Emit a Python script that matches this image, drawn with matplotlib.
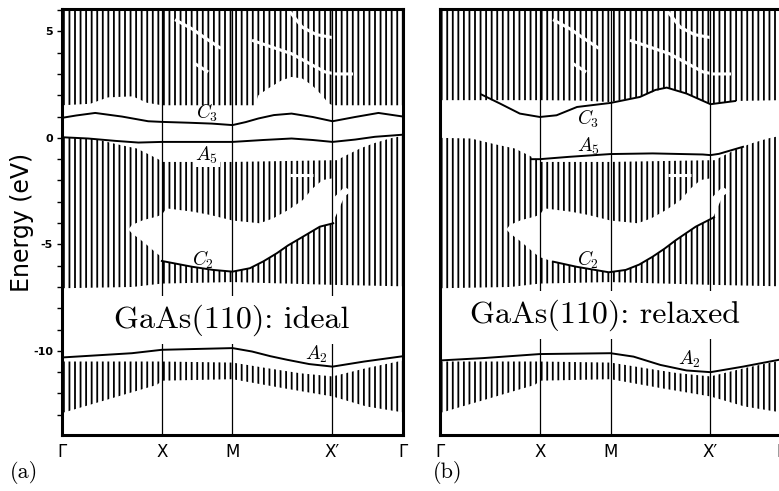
"""
Projected bulk bands and surface states of GaAs(110), ideal vs relaxed
"""

import numpy as np
import matplotlib
matplotlib.use("Agg")
import matplotlib.pyplot as plt

# k-path: Gamma - X - M - X' - Gamma (lengths sqrt2, 1, sqrt2, 1)
K_X, K_M, K_XP, K_END = 1.414, 2.414, 3.828, 4.828
k_ticks = [0, K_X, K_M, K_XP, K_END]
k_labels = ["Γ", "X", "M", "X′", "Γ"]

# ---- bulk continuum (hatched), eV ----
# lower edge of the upper (conduction) continuum
cb_k_a = [0, 0.4, 0.65, 1.0, 1.2, 1.414, 2.73, 2.78, 2.92, 3.11, 3.25, 3.4, 3.54, 3.68, 3.77, 3.83, 4.83]
cb_bot_a = [1.53, 1.6, 1.9, 1.95, 1.65, 1.53, 1.53, 2.0, 2.32, 2.7, 2.86, 2.79, 2.47, 2.0, 1.63, 1.53, 1.53]
cb_k_b = [0, 1.414, 2.0, 2.41, 2.83, 3.21, 3.49, 3.83, 4.18, 4.83]
cb_bot_b = [1.77, 1.77, 1.75, 1.68, 1.95, 2.36, 2.08, 1.6, 1.73, 1.77]

# valence continuum
vb_top_k = [0, 0.44, 0.79, 1.06, 1.25, 1.39, 1.414, 2.414, 3.83, 3.89, 4.03, 4.22, 4.41, 4.64, 4.83]
vb_top = [0.0, -0.03, -0.31, -0.5, -0.81, -1.05, -1.13, -1.13, -1.05, -1.05, -0.81, -0.5, -0.26, -0.03, 0.1]
vb_bot_k = [0, 1.0, 1.414, 2.414, 3.83, 4.83]
vb_bot = [-7.06, -7.0, -6.84, -6.77, -6.9, -6.97]

# white gap inside the valence continuum (upper edge, left wedge, right tail)
gap_top_k = [0.94, 0.99, 1.15, 1.34, 1.414, 1.48, 1.86, 2.1, 2.414, 2.8, 2.99, 3.2, 3.41,
             3.55, 3.69, 3.83, 3.86, 4.0, 4.1]
gap_top = [-4.3, -4.09, -3.86, -3.7, -3.6, -3.31, -3.47, -3.62, -3.88, -4.01, -3.78, -3.39, -2.92,
           -2.37, -1.98, -1.9, -2.77, -2.3, -2.5]
wedge_k = [0.94, 0.99, 1.15, 1.34, 1.414]
wedge_lo = [-4.3, -4.48, -4.88, -5.42, -5.6]
tail_k = [3.86, 4.0, 4.1]
tail_lo = [-3.78, -2.75, -2.5]

# lowest continuum (below A2)
lb_top_k = [0, 1.414, 2.414, 2.9, 3.37, 3.83, 4.31, 4.83]
lb_top = [-10.5, -10.5, -10.55, -10.81, -11.05, -11.2, -10.81, -10.45]
lb_bot_k = [0, 1.34, 1.42, 2.414, 3.13, 3.83, 4.31, 4.83]
lb_bot = [-12.92, -11.6, -11.4, -11.33, -11.75, -12.14, -12.61, -12.89]

# thin white breaks in the hatching
breaks = [
    ([1.6, 1.85, 2.0, 2.25], [5.55, 5.1, 4.75, 4.2]),
    ([1.88, 2.07], [3.49, 3.09]),
    ([2.69, 3.25, 3.72, 3.87, 4.12], [4.58, 3.95, 3.1, 3.0, 3.0]),
    ([3.22, 3.4, 3.6, 3.84], [5.95, 5.2, 4.85, 4.7]),
    ([3.23, 3.55], [-1.75, -1.75]),
]

# ---- surface states, panel (a) ideal ----
c3_k_a = [0, 0.2, 0.47, 0.85, 1.22, 1.414, 1.8, 2.12, 2.414, 2.6, 2.78, 3.0, 3.25, 3.55, 3.83, 4.15, 4.48, 4.83]
c3_a = [0.94, 1.05, 1.17, 1.0, 0.78, 0.75, 0.71, 0.67, 0.6, 0.74, 0.91, 1.07, 1.14, 0.98, 0.78, 0.98, 1.17, 1.0]
a5_k_a = [0, 0.37, 0.75, 1.08, 1.414, 2.26, 2.414, 2.85, 3.25, 3.55, 3.83, 4.15, 4.43, 4.83]
a5_a = [0.03, -0.03, -0.14, -0.22, -0.19, -0.19, -0.19, -0.1, -0.03, -0.1, -0.19, -0.08, 0.05, 0.15]
c2_k_a = [1.414, 1.84, 2.14, 2.414, 2.66, 2.85, 3.04, 3.2, 3.37, 3.65, 3.84]
c2_a = [-5.78, -6.05, -6.2, -6.28, -6.12, -5.8, -5.42, -5.05, -4.72, -4.17, -4.01]
a2_k_a = [0, 0.99, 1.414, 2.414, 2.69, 2.95, 3.19, 3.5, 3.83, 4.28, 4.83]
a2_a = [-10.31, -10.11, -9.95, -9.87, -10.03, -10.25, -10.42, -10.62, -10.74, -10.5, -10.25]

# ---- surface states, panel (b) relaxed ----
c3_k_b = [0.59, 0.85, 1.13, 1.414, 1.65, 1.94, 2.414, 2.83, 3.05, 3.21, 3.49, 3.83, 4.18]
c3_b = [2.03, 1.61, 1.14, 0.98, 1.06, 1.45, 1.64, 1.92, 2.25, 2.36, 2.08, 1.58, 1.73]
a5_k_b = [1.3, 1.414, 1.83, 2.414, 3.01, 3.72, 3.83, 3.95, 4.29]
a5_b = [-1.0, -1.0, -0.89, -0.76, -0.73, -0.78, -0.81, -0.75, -0.42]
c2_k_b = [1.6, 1.93, 2.39, 2.63, 2.82, 3.01, 3.18, 3.34, 3.62, 3.88]
c2_b = [-5.81, -6.05, -6.31, -6.2, -5.95, -5.58, -5.2, -4.8, -4.17, -3.73]
a2_k_b = [0, 0.61, 1.414, 2.414, 2.74, 3.12, 3.49, 3.83, 4.29, 4.83]
a2_b = [-10.45, -10.34, -10.15, -10.11, -10.27, -10.66, -10.92, -11.0, -10.74, -10.4]

W, H = 779, 491
SANS = ["Liberation Sans Narrow", "DejaVu Sans"]
HATCH = dict(facecolor="none", edgecolor="black", hatch="|||", linewidth=0, zorder=1)


def draw_panel(ax, cb_k, cb_bot, curves, labels, title, title_xy):
    a = np.asarray
    # hatched bulk regions
    ax.fill_between(cb_k, cb_bot, 7, **HATCH)
    ax.fill(np.r_[vb_top_k, a(vb_bot_k)[::-1]], np.r_[vb_top, a(vb_bot)[::-1]], **HATCH)
    ax.fill(np.r_[lb_top_k, a(lb_bot_k)[::-1]], np.r_[lb_top, a(lb_bot)[::-1]], **HATCH)

    # gap inside the valence continuum, lower edge follows C2
    c2_k, c2 = curves["C2"]
    gx = np.r_[gap_top_k, a(tail_k)[::-1], a(c2_k)[::-1], a(wedge_k)[::-1]]
    gy = np.r_[gap_top, a(tail_lo)[::-1], a(c2)[::-1], a(wedge_lo)[::-1]]
    ax.fill(gx, gy, facecolor="white", edgecolor="none", zorder=2)
    for bk, be in breaks:
        ax.plot(bk, be, color="white", lw=2.2, solid_capstyle="butt", zorder=2)

    for k in (K_X, K_M, K_XP):
        ax.axvline(k, color="black", lw=0.9, zorder=3)

    for name, (ck, ce) in curves.items():
        ax.plot(ck, ce, color="black", lw=1.4, zorder=4)

    for name, (lk, le, boxed) in labels.items():
        box = dict(facecolor="white", edgecolor="none", pad=1) if boxed else None
        ax.text(lk, le, "$%s_%s$" % (name[0], name[1]), fontsize=14,
                ha="center", va="center", zorder=5, bbox=box)

    ax.text(title_xy[0], title_xy[1], title, family="cmr10", fontsize=23,
            ha="center", va="center", zorder=6,
            bbox=dict(facecolor="white", edgecolor="none", pad=6))

    ax.set_xlim(0, K_END)
    ax.set_ylim(-13.95, 6.05)
    ax.set_xticks(k_ticks, k_labels)
    ax.tick_params(axis="x", length=0, pad=5.5, labelsize=12, labelfontfamily=SANS)
    for sp in ax.spines.values():
        sp.set_linewidth(2.2)


def main():
    plt.rcParams["mathtext.fontset"] = "cm"
    plt.rcParams["hatch.linewidth"] = 1.3

    fig = plt.figure(figsize=(W / 100, H / 100), dpi=100)

    def px_axes(x0, y0, x1, y1):
        return fig.add_axes([x0 / W, 1 - y1 / H, (x1 - x0) / W, (y1 - y0) / H])

    ax_a = px_axes(62, 9, 403, 435)
    ax_b = px_axes(440, 9, 781, 435)

    draw_panel(ax_a, cb_k_a, cb_bot_a,
               {"C3": (c3_k_a, c3_a), "A5": (a5_k_a, a5_a),
                "C2": (c2_k_a, c2_a), "A2": (a2_k_a, a2_a)},
               {"C3": (2.05, 1.16, False), "A5": (2.05, -0.81, True),
                "C2": (2.0, -5.72, False), "A2": (3.6, -10.18, False)},
               "GaAs(110): ideal", (2.40, -8.55))
    draw_panel(ax_b, cb_k_b, cb_bot_b,
               {"C3": (c3_k_b, c3_b), "A5": (a5_k_b, a5_b),
                "C2": (c2_k_b, c2_b), "A2": (a2_k_b, a2_b)},
               {"C3": (2.1, 0.88, False), "A5": (2.1, -0.4, False),
                "C2": (2.1, -5.75, False), "A2": (3.53, -10.42, False)},
               "GaAs(110): relaxed", (2.34, -8.31))

    # energy axis only on the left panel
    ax_a.set_yticks([-10, -5, 0, 5], ["-10", "-5", "0", "5"])
    ax_a.set_yticks(np.arange(-13, 7), minor=True)
    ax_a.tick_params(axis="y", which="both", direction="out", length=3.5, width=1,
                     labelsize=8, pad=3, labelfontfamily=SANS)
    for lbl in ax_a.get_yticklabels():
        lbl.set_fontweight("bold")
    ax_b.tick_params(axis="y", which="both", left=False, labelleft=False)

    fig.text(22 / W, 1 - 222 / H, "Energy (eV)", rotation=90, fontsize=17,
             ha="center", va="center")
    fig.text(10 / W, 1 - 472 / H, "(a)", family="cmr10", fontsize=16, va="center")
    fig.text(433 / W, 1 - 472 / H, "(b)", family="cmr10", fontsize=16, va="center")

    fig.savefig("out.png", dpi=100)


if __name__ == "__main__":
    main()
